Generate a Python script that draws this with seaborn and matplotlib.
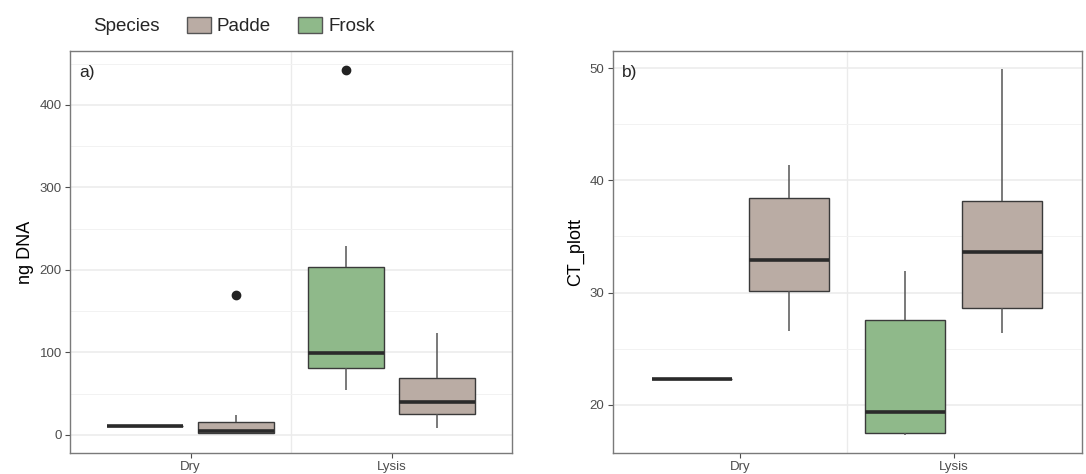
import pandas as pd
import matplotlib.pyplot as plt
import seaborn as sns

# Data (raw samples: whiskers, quartiles, medians, outliers)
treatments = ['Dry', 'Lysis']
species_order = ['Frosk', 'Padde']      # dodge order in the plot
legend_order = ['Padde', 'Frosk']       # order in the legend

dna_dry_frosk = [11, 11, 11]
dna_dry_padde = [2, 2, 2, 3, 5, 9, 16, 24, 170]
dna_lysis_frosk = [54, 68, 81, 90, 99, 150, 203, 229, 442]
dna_lysis_padde = [8, 16, 25, 32, 40, 55, 69, 90, 124]

ct_dry_frosk = [22.3, 22.3, 22.3]
ct_dry_padde = [26.6, 28.5, 30.1, 31.5, 32.9, 35.5, 38.4, 40.0, 41.4]
ct_lysis_frosk = [17.3, 17.4, 17.5, 18.5, 19.35, 23.0, 27.6, 29.5, 31.9]
ct_lysis_padde = [26.4, 27.5, 28.6, 31.0, 33.6, 36.0, 38.2, 43.0, 49.9]

colours = {'Padde': '#baaca4', 'Frosk': '#8fb98a'}


def make_frame(values, name):
    rows = []
    for (treat, sp), vals in values.items():
        for v in vals:
            rows.append({'Treatment': treat, 'Species': sp, name: v})
    return pd.DataFrame(rows)


dna = make_frame({('Dry', 'Frosk'): dna_dry_frosk, ('Dry', 'Padde'): dna_dry_padde,
                  ('Lysis', 'Frosk'): dna_lysis_frosk, ('Lysis', 'Padde'): dna_lysis_padde},
                 'ng DNA')
ct = make_frame({('Dry', 'Frosk'): ct_dry_frosk, ('Dry', 'Padde'): ct_dry_padde,
                 ('Lysis', 'Frosk'): ct_lysis_frosk, ('Lysis', 'Padde'): ct_lysis_padde},
                'CT_plott')

sns.set_style('white')
plt.rcParams['font.family'] = ['Liberation Sans', 'DejaVu Sans']

fig = plt.figure(figsize=(10.86, 4.74), dpi=100)
ax1 = fig.add_axes([0.0645, 0.044, 0.407, 0.848])
ax2 = fig.add_axes([0.564, 0.044, 0.432, 0.848])

box_kw = dict(x='Treatment', hue='Species', order=treatments, hue_order=species_order,
              palette=colours, saturation=1, width=0.91, gap=0.17,
              linecolor='#3a3a3a', linewidth=1.0, whis=1.5, legend=False,
              medianprops=dict(color='#2a2a2a', linewidth=2.6),
              whiskerprops=dict(color='#555555', linewidth=1.1),
              capprops=dict(linewidth=0),
              flierprops=dict(marker='o', markerfacecolor='#222222', markeredgecolor='#222222',
                              markersize=6))

sns.boxplot(data=dna, y='ng DNA', ax=ax1, **box_kw)
sns.boxplot(data=ct, y='CT_plott', ax=ax2, **box_kw)

settings = [(ax1, (-22, 465), [0, 100, 200, 300, 400], [50, 150, 250, 350, 450], 'ng DNA', 'a)'),
            (ax2, (15.7, 51.5), [20, 30, 40, 50], [25, 35, 45], 'CT_plott', 'b)')]
for ax, ylim, major, minor, ylab, tag in settings:
    ax.set_xlim(-0.6, 1.6)
    ax.set_ylim(*ylim)
    ax.set_yticks(major)
    ax.set_yticks(minor, minor=True)
    ax.set_axisbelow(True)
    ax.grid(axis='y', which='major', color='#ebebeb', linewidth=1.1)
    ax.grid(axis='y', which='minor', color='#f2f2f2', linewidth=0.7)
    ax.axvline(0.5, color='#ebebeb', linewidth=1.0, zorder=0)
    ax.set_xlabel('')
    ax.set_ylabel(ylab, fontsize=13, color='black', labelpad=4)
    ax.tick_params(axis='both', which='major', length=3.5, color='#4d4d4d',
                   labelsize=9.5, labelcolor='#4d4d4d', direction='out', pad=2.5,
                   left=True, bottom=True)
    ax.tick_params(axis='both', which='minor', length=0)
    for spine in ax.spines.values():
        spine.set_color('#7a7a7a')
        spine.set_linewidth(1.0)
    ax.text(0.02, 0.965, tag, transform=ax.transAxes, fontsize=12.5, va='top', ha='left')

# Legend at the top
fig.text(0.086, 0.945, 'Species', fontsize=13.5, va='center', ha='left')
handles = [plt.Rectangle((0, 0), 1, 1, facecolor=colours[s], edgecolor='#555555', linewidth=1.0)
           for s in legend_order]
fig.legend(handles, legend_order, loc='center left', bbox_to_anchor=(0.172, 0.945),
           ncol=2, frameon=False, fontsize=13.5, handlelength=1.3, handleheight=1.0,
           handletextpad=0.3, columnspacing=1.45, borderaxespad=0, borderpad=0)

fig.savefig('out.png', dpi=100)
